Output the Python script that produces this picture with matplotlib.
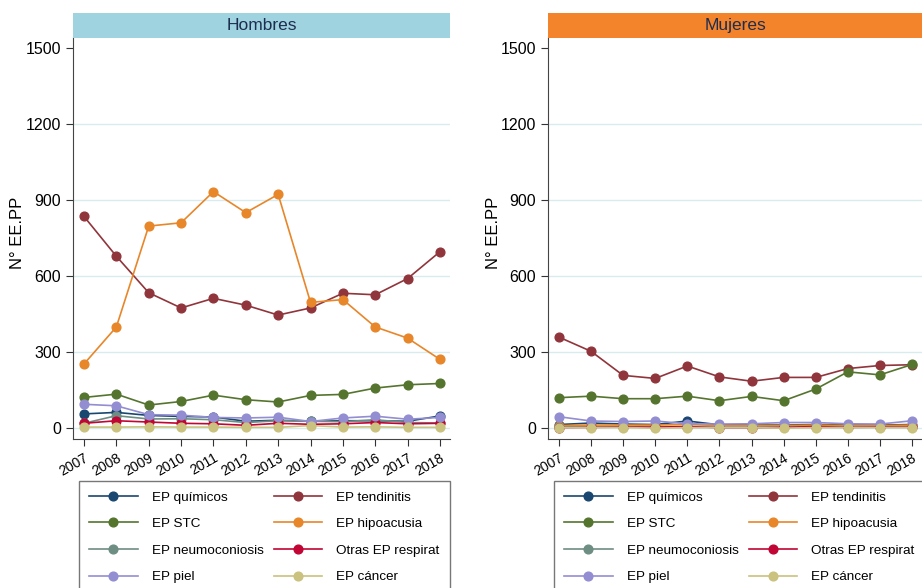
import matplotlib
matplotlib.use("Agg")
from matplotlib import pyplot as plt
from matplotlib.lines import Line2D

plt.rcParams['font.family'] = ['Liberation Sans', 'DejaVu Sans']

years = list(range(2007, 2019))

series_names = ['EP químicos', 'EP tendinitis', 'EP STC', 'EP hipoacusia',
                'EP neumoconiosis', 'Otras EP respirat', 'EP piel', 'EP cáncer']
series_colors = ['#1a476f', '#90353b', '#55752f', '#e8862a',
                 '#6e8e84', '#c10534', '#938dd2', '#cac27e']

# Hombres
h_quimicos = [56, 62, 50, 46, 44, 27, 31, 27, 29, 29, 27, 48]
h_tendinitis = [835, 678, 534, 474, 512, 485, 446, 474, 532, 526, 590, 696]
h_stc = [121, 134, 91, 105, 130, 112, 103, 129, 133, 158, 171, 176]
h_hipoacusia = [253, 399, 797, 810, 933, 850, 922, 496, 507, 399, 355, 271]
h_neumo = [19, 49, 36, 37, 33, 22, 29, 27, 25, 33, 22, 20]
h_otras = [19, 29, 24, 19, 17, 11, 19, 15, 17, 22, 17, 19]
h_piel = [94, 88, 53, 51, 42, 40, 43, 26, 40, 47, 35, 42]
h_cancer = [4, 4, 5, 4, 4, 3, 3, 10, 4, 5, 3, 3]

# Mujeres
m_quimicos = [14, 20, 16, 14, 28, 13, 12, 12, 14, 12, 12, 14]
m_tendinitis = [359, 303, 208, 196, 245, 202, 185, 200, 200, 235, 247, 250]
m_stc = [120, 126, 116, 116, 126, 108, 125, 108, 154, 222, 210, 251]
m_hipoacusia = [10, 12, 12, 12, 14, 10, 10, 10, 12, 10, 10, 12]
m_neumo = [4, 4, 4, 3, 3, 3, 3, 3, 3, 3, 3, 3]
m_otras = [2, 3, 4, 4, 6, 2, 2, 3, 6, 3, 4, 4]
m_piel = [45, 28, 26, 28, 17, 16, 17, 22, 22, 17, 16, 29]
m_cancer = [2, 2, 2, 0, 2, 2, 2, 0, 2, 2, 2, 2]

hombres = [h_quimicos, h_tendinitis, h_stc, h_hipoacusia, h_neumo, h_otras, h_piel, h_cancer]
mujeres = [m_quimicos, m_tendinitis, m_stc, m_hipoacusia, m_neumo, m_otras, m_piel, m_cancer]

yticks = [0, 300, 600, 900, 1200, 1500]

fig = plt.figure(figsize=(9.22, 5.88), dpi=100)
W, H = 922, 588

panels = [
    ('Hombres', '#9fd3e0', hombres, 73, 377, 18),
    ('Mujeres', '#f4842c', mujeres, 548, 374, 493),
]

for title, strip_color, data, left_px, width_px, ylab_px in panels:
    ax = fig.add_axes([left_px / W, 1 - 439 / H, width_px / W, 402 / H])
    for vals, name, col in zip(data, series_names, series_colors):
        ax.plot(years, vals, color=col, marker='o', markersize=6.3,
                linewidth=1.2, label=name)
    ax.set_ylim(-43, 1543)
    ax.set_xlim(2006.66, 2018.31)
    ax.set_yticks(yticks)
    ax.set_xticks(years)
    ax.set_xticklabels([str(y) for y in years], rotation=30, ha='right',
                       rotation_mode='anchor', fontsize=10)
    ax.tick_params(axis='y', labelsize=11.5, length=5, width=0.8, color='#333333')
    ax.tick_params(axis='x', length=5, width=0.8, color='#333333')
    for y in yticks[:-1]:
        ax.axhline(y, color='#d8ecee', linewidth=1, zorder=0)
    ax.spines['top'].set_visible(False)
    ax.spines['right'].set_visible(False)
    ax.spines['left'].set_color('#444444')
    ax.spines['bottom'].set_color('#444444')
    fig.text(ylab_px / W, 1 - 233 / H, 'N° EE.PP', rotation=90,
             fontsize=12, va='center', ha='center')

    # title strip
    sax = fig.add_axes([left_px / W, 1 - 37.5 / H, width_px / W, 24.5 / H])
    sax.set_facecolor(strip_color)
    sax.set_xticks([])
    sax.set_yticks([])
    for s in sax.spines.values():
        s.set_visible(False)
    sax.text(0.5, 0.5, title, ha='center', va='center', fontsize=12.5,
             color='#1e2d4f', transform=sax.transAxes)

    # legend, column-wise order for 2-col layout
    order = [0, 2, 4, 6, 1, 3, 5, 7]
    handles = [Line2D([], [], color=series_colors[i], marker='o',
                      markersize=6.3, linewidth=1.2) for i in order]
    labels = [series_names[i] for i in order]
    leg_left = left_px + 6
    leg = fig.legend(handles, labels, loc='upper left',
                     bbox_to_anchor=(leg_left / W, 1 - 481 / H),
                     ncol=2, fontsize=9.7, frameon=True, fancybox=False,
                     edgecolor='#555555', handlelength=3.6, handletextpad=1.05,
                     columnspacing=0.75, labelspacing=1.05, borderpad=0.75,
                     borderaxespad=0)
    leg.get_frame().set_linewidth(1.0)

fig.savefig('out.png', dpi=100)
